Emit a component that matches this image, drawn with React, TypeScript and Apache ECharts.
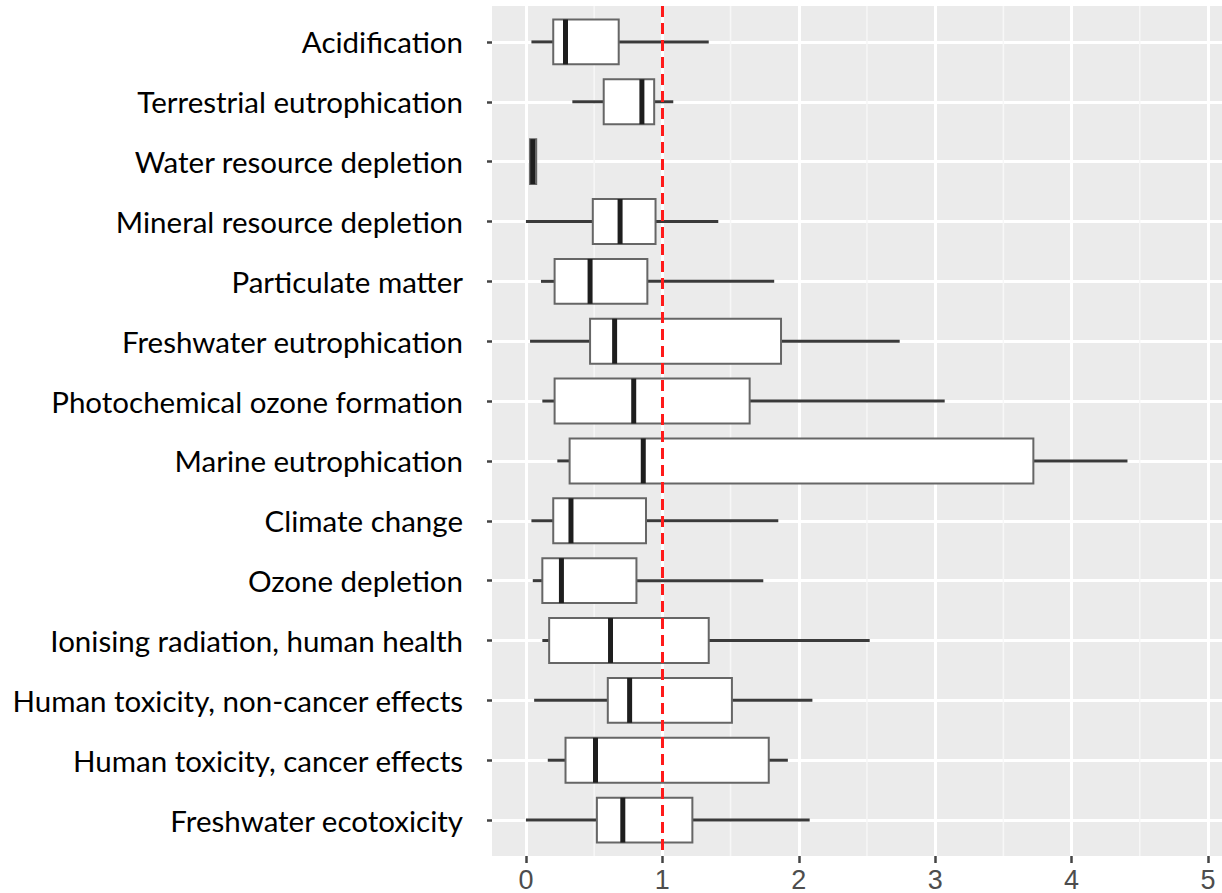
import React, { useEffect, useRef } from "react";
import * as echarts from "echarts";

const categories = [
  "Acidification",
  "Terrestrial eutrophication",
  "Water resource depletion",
  "Mineral resource depletion",
  "Particulate matter",
  "Freshwater eutrophication",
  "Photochemical ozone formation",
  "Marine eutrophication",
  "Climate change",
  "Ozone depletion",
  "Ionising radiation, human health",
  "Human toxicity, non-cancer effects",
  "Human toxicity, cancer effects",
  "Freshwater ecotoxicity",
];

const whiskerLow = [0.04, 0.34, 0.025, 0.0, 0.11, 0.03, 0.12, 0.23, 0.04, 0.05, 0.12, 0.06, 0.16, 0.0];
const quartile1 = [0.2, 0.57, 0.03, 0.49, 0.21, 0.47, 0.21, 0.32, 0.2, 0.12, 0.17, 0.6, 0.29, 0.52];
const medians = [0.29, 0.85, 0.05, 0.69, 0.47, 0.65, 0.79, 0.86, 0.33, 0.26, 0.62, 0.76, 0.51, 0.71];
const quartile3 = [0.68, 0.94, 0.075, 0.95, 0.89, 1.87, 1.64, 3.72, 0.88, 0.81, 1.34, 1.51, 1.78, 1.22];
const whiskerHigh = [1.34, 1.08, 0.08, 1.41, 1.82, 2.74, 3.07, 4.41, 1.85, 1.74, 2.52, 2.1, 1.92, 2.08];

const xTicks = [0, 1, 2, 3, 4, 5];
const xMinorBreaks = [0.5, 1.5, 2.5, 3.5, 4.5];
const referenceValue = 1;

export default function App() {
  const ref = useRef<HTMLDivElement>(null);

  useEffect(() => {
    if (!ref.current) return;
    const chart = echarts.init(ref.current, null, { renderer: "svg" });
    const catIdx = categories.map((_, i) => i);
    const boxData = categories.map((_, i) => [
      i,
      whiskerLow[i],
      quartile1[i],
      medians[i],
      quartile3[i],
      whiskerHigh[i],
    ]);

    chart.setOption({
      animation: false,
      backgroundColor: "#ffffff",
      grid: {
        left: 492,
        top: 6,
        right: 0,
        bottom: 37,
        show: true,
        backgroundColor: "#EBEBEB",
        borderWidth: 0,
      },
      xAxis: {
        type: "value",
        position: "bottom",
        min: -0.249,
        max: 5.103,
        axisLine: { show: false, onZero: false },
        axisTick: {
          show: true,
          customValues: xTicks,
          length: 7,
          lineStyle: { color: "#444444", width: 2.5 },
        },
        axisLabel: {
          customValues: xTicks,
          margin: 10,
          color: "#4D4D4D",
          fontSize: 27,
          fontFamily: "Liberation Sans, Arial, sans-serif",
        },
        splitLine: { show: true, lineStyle: { color: "#ffffff", width: 3 } },
      },
      yAxis: {
        type: "value",
        position: "left",
        inverse: true,
        min: -0.6,
        max: 13.6,
        axisLine: { show: false, onZero: false },
        axisTick: {
          show: true,
          customValues: catIdx,
          length: 5,
          lineStyle: { color: "#444444", width: 2.5 },
        },
        axisLabel: {
          customValues: catIdx,
          margin: 29,
          color: "#000000",
          fontSize: 29.5,
          fontFamily: "Lato, sans-serif",
          formatter: (v: number) => categories[Math.round(v)] ?? "",
        },
        splitLine: { show: true, lineStyle: { color: "#ffffff", width: 3 } },
      },
      series: [
        {
          type: "custom",
          name: "minorGrid",
          z: 1,
          silent: true,
          data: xMinorBreaks.map((v) => [v]),
          encode: { x: 0 },
          clip: true,
          renderItem: (params: any, api: any) => {
            const cs = params.coordSys;
            const x = api.coord([api.value(0), 0])[0];
            return {
              type: "line",
              shape: { x1: x, y1: cs.y, x2: x, y2: cs.y + cs.height },
              style: { stroke: "#F7F7F7", lineWidth: 1.5 },
            };
          },
        },
        {
          type: "custom",
          name: "boxes",
          z: 3,
          data: boxData,
          dimensions: ["cat", "low", "q1", "median", "q3", "high"],
          encode: { x: [1, 2, 3, 4, 5], y: 0 },
          renderItem: (params: any, api: any) => {
            const idx = api.value(0);
            const lo = api.coord([api.value(1), idx]);
            const q1 = api.coord([api.value(2), idx]);
            const med = api.coord([api.value(3), idx]);
            const q3 = api.coord([api.value(4), idx]);
            const hi = api.coord([api.value(5), idx]);
            const h = Math.abs(api.size([0, 0.75])[1]);
            const y = lo[1];
            return {
              type: "group",
              children: [
                {
                  type: "line",
                  shape: { x1: lo[0], y1: y, x2: q1[0], y2: y },
                  style: { stroke: "#3a3a3a", lineWidth: 3 },
                },
                {
                  type: "line",
                  shape: { x1: q3[0], y1: y, x2: hi[0], y2: y },
                  style: { stroke: "#3a3a3a", lineWidth: 3 },
                },
                {
                  type: "rect",
                  shape: { x: q1[0], y: y - h / 2, width: q3[0] - q1[0], height: h },
                  style: { fill: "#ffffff", stroke: "#666666", lineWidth: 2 },
                },
                {
                  type: "line",
                  shape: { x1: med[0], y1: y - h / 2, x2: med[0], y2: y + h / 2 },
                  style: { stroke: "#1e1e1e", lineWidth: 5 },
                },
              ],
            };
          },
          markLine: {
            silent: true,
            symbol: "none",
            label: { show: false },
            lineStyle: { color: "#FF1A1A", type: [11, 6], width: 3 },
            data: [{ xAxis: referenceValue }],
          },
        },
      ],
    });

    return () => chart.dispose();
  }, []);

  return (
    <div
      ref={ref}
      style={{ position: "fixed", left: 0, top: 0, width: 1222, height: 893 }}
    />
  );
}
